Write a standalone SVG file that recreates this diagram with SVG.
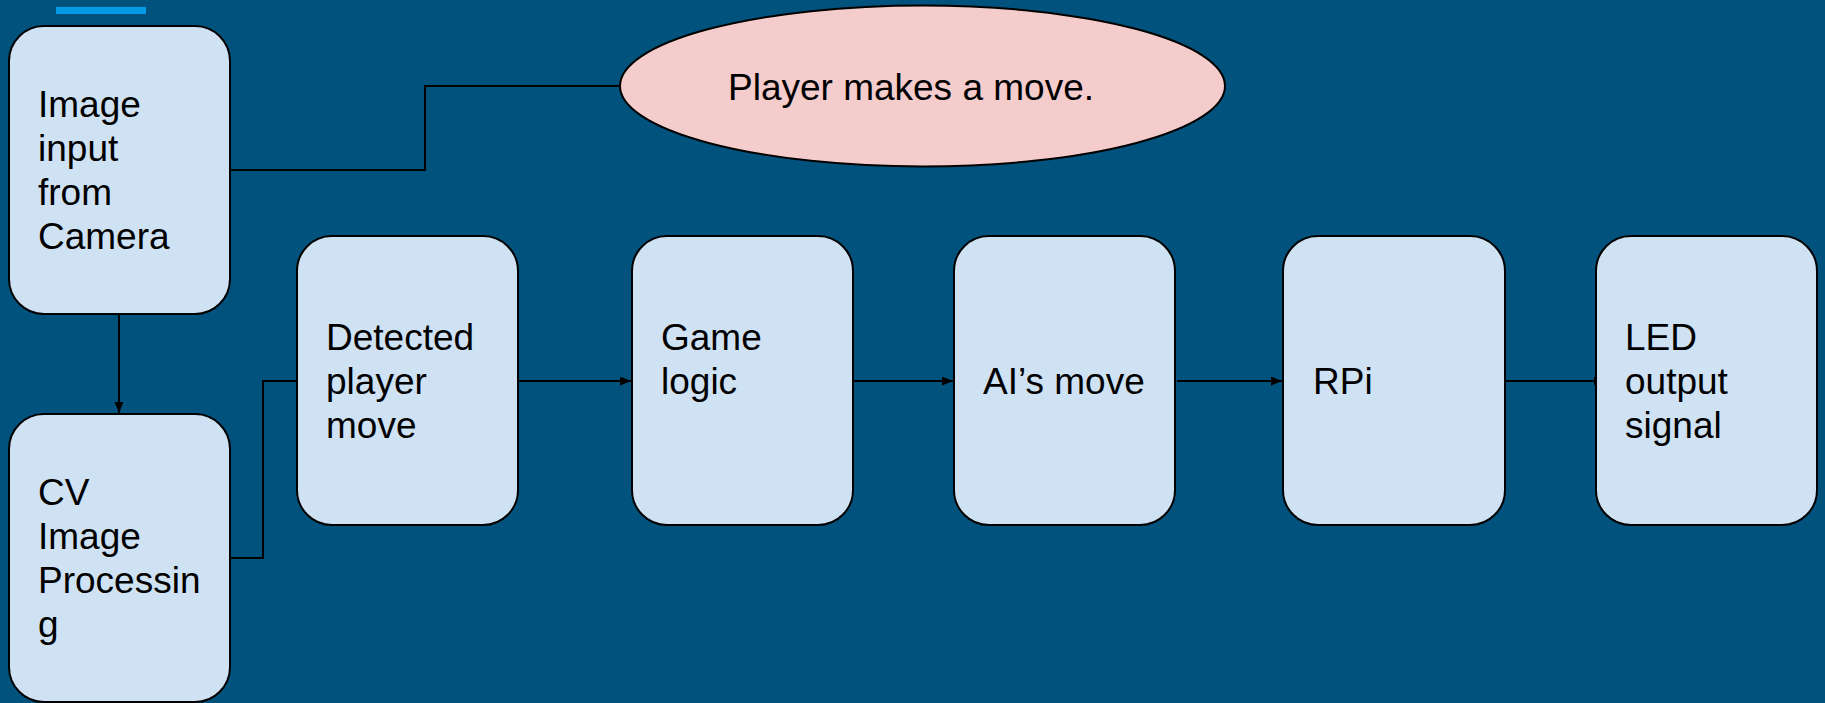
<svg xmlns="http://www.w3.org/2000/svg" width="1825" height="703" viewBox="0 0 1825 703">
  <style>
    .node rect { fill: #cfe2f3; stroke: #000; stroke-width: 2; }
    .node ellipse { fill: #f4cccc; stroke: #000; stroke-width: 2; }
    .node text { font-family: "Liberation Sans", Arial, sans-serif; font-size: 37px; fill: #000; }
    .links path { fill: none; stroke: #000; stroke-width: 2; }
  </style>
  <defs>
    <marker id="arrow" markerUnits="userSpaceOnUse" markerWidth="12" markerHeight="10" refX="11" refY="4.5" orient="auto">
      <path d="M0,0 L11,4.5 L0,9 Z" fill="#000"/>
    </marker>
  </defs>

  <!-- background -->
  <rect x="0" y="0" width="1825" height="703" fill="#01527c"/>
  <rect x="56" y="7" width="90" height="7" fill="#039be5"/>

  <!-- connectors -->
  <g class="links">
    <path d="M230,170 H425 V86 H620"/>
    <path d="M119,314 V413" marker-end="url(#arrow)"/>
    <path d="M230,558 H263 V381 H297"/>
    <path d="M518,381 H631" marker-end="url(#arrow)"/>
    <path d="M853,381 H953" marker-end="url(#arrow)"/>
    <path d="M1177,381 H1282" marker-end="url(#arrow)"/>
    <path d="M1505,381 H1605" marker-end="url(#arrow)"/>
  </g>

  <!-- nodes -->
  <g id="camera" class="node">
    <rect x="9" y="26" width="221" height="288" rx="35" ry="35"/>
    <text x="38" y="117">Image</text>
    <text x="38" y="161">input</text>
    <text x="38" y="205">from</text>
    <text x="38" y="249">Camera</text>
  </g>

  <g id="player-move" class="node">
    <ellipse cx="922.5" cy="86" rx="302.5" ry="80.5"/>
    <text x="911" y="100" text-anchor="middle">Player makes a move.</text>
  </g>

  <g id="cv" class="node">
    <rect x="9" y="414" width="221" height="288" rx="35" ry="35"/>
    <text x="38" y="505">CV</text>
    <text x="38" y="549">Image</text>
    <text x="38" y="593">Processin</text>
    <text x="38" y="637">g</text>
  </g>

  <g id="detected" class="node">
    <rect x="297" y="236" width="221" height="289" rx="35" ry="35"/>
    <text x="326" y="350">Detected</text>
    <text x="326" y="394">player</text>
    <text x="326" y="438">move</text>
  </g>

  <g id="game-logic" class="node">
    <rect x="632" y="236" width="221" height="289" rx="35" ry="35"/>
    <text x="661" y="350">Game</text>
    <text x="661" y="394">logic</text>
  </g>

  <g id="ai-move" class="node">
    <rect x="954" y="236" width="221" height="289" rx="35" ry="35"/>
    <text x="983" y="394">AI’s move</text>
  </g>

  <g id="rpi" class="node">
    <rect x="1283" y="236" width="222" height="289" rx="35" ry="35"/>
    <text x="1313" y="394">RPi</text>
  </g>

  <g id="led" class="node">
    <rect x="1596" y="236" width="221" height="289" rx="35" ry="35"/>
    <text x="1625" y="350">LED</text>
    <text x="1625" y="394">output</text>
    <text x="1625" y="438">signal</text>
  </g>
</svg>
